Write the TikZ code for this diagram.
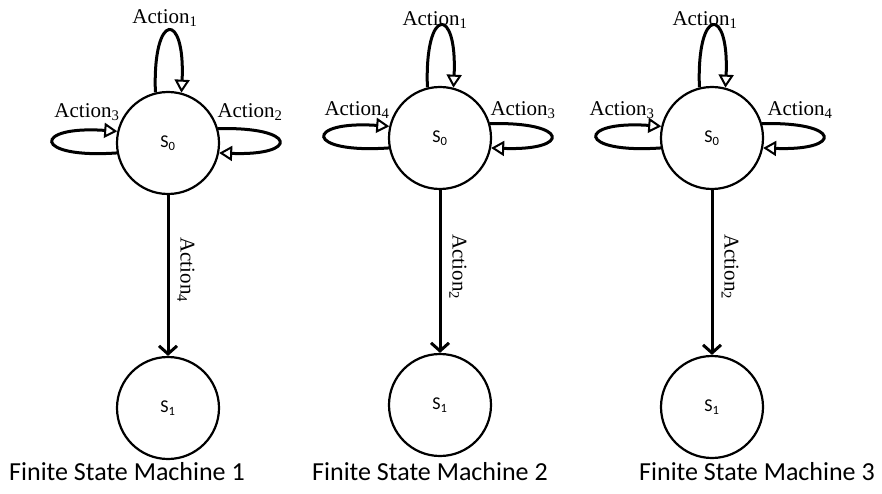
\documentclass[tikz,border=0pt]{standalone}
\usepackage{fontspec}
\setmainfont{Liberation Serif}
\newfontfamily\calib{Carlito}
\usetikzlibrary{arrows.meta}

\tikzset{
  state/.style={circle,draw,line width=2.2pt,minimum size=102pt,inner sep=0pt,
    font=\calib\fontsize{18}{20}\selectfont},
  act/.style={inner sep=0pt,font=\fontsize{21}{23}\selectfont},
  selfloop/.style={line width=3pt,-{Triangle[open,length=13pt,width=15pt,line width=2pt]}},
  trans/.style={line width=3pt,-{Straight Barb[length=8pt,width=18pt,line width=3pt]}},
  fsmname/.style={inner sep=0pt,font=\calib\fontsize{26}{28}\selectfont}
}

\begin{document}
\begin{tikzpicture}[x=1pt,y=1pt]
  \useasboundingbox (0,0) rectangle (882,493);

  \node[state] (m1s0) at (168,350) {S\textsubscript{0}};
  \node[state] (m1s1) at (168,85) {S\textsubscript{1}};
  \draw[selfloop] (m1s0.104) .. controls +(-3,82) and +(4,82) .. (m1s0.75);
  \draw[selfloop] (m1s0.191) .. controls +(-85,-6) and +(-85,6) .. (m1s0.167);
  \draw[selfloop] (m1s0.16) .. controls +(80,2) and +(80,-3) .. (m1s0.-11);
  \draw[trans] (m1s0) -- (m1s1);
  \node[act] (m1a1) at (165,475) {Action\textsubscript{1}};
  \node[act] (m1a3) at (87,381) {Action\textsubscript{3}};
  \node[act] (m1a2) at (250,381) {Action\textsubscript{2}};
  \node[act,rotate=-90] (m1a4) at (186,223) {Action\textsubscript{4}};
  \node[fsmname] (m1name) at (127,21) {Finite State Machine 1};

  \node[state] (m2s0) at (440,355) {S\textsubscript{0}};
  \node[state] (m2s1) at (440,88) {S\textsubscript{1}};
  \draw[selfloop] (m2s0.104) .. controls +(-3,82) and +(4,82) .. (m2s0.75);
  \draw[selfloop] (m2s0.191) .. controls +(-85,-6) and +(-85,6) .. (m2s0.167);
  \draw[selfloop] (m2s0.16) .. controls +(80,2) and +(80,-3) .. (m2s0.-11);
  \draw[trans] (m2s0) -- (m2s1);
  \node[act] (m2a1) at (435,473) {Action\textsubscript{1}};
  \node[act] (m2a4) at (357,383) {Action\textsubscript{4}};
  \node[act] (m2a3) at (523,383) {Action\textsubscript{3}};
  \node[act,rotate=-90] (m2a2) at (458,226) {Action\textsubscript{2}};
  \node[fsmname] (m2name) at (430,21) {Finite State Machine 2};

  \node[state] (m3s0) at (712,355) {S\textsubscript{0}};
  \node[state] (m3s1) at (712,86) {S\textsubscript{1}};
  \draw[selfloop] (m3s0.104) .. controls +(-3,82) and +(4,82) .. (m3s0.75);
  \draw[selfloop] (m3s0.191) .. controls +(-85,-6) and +(-85,6) .. (m3s0.167);
  \draw[selfloop] (m3s0.16) .. controls +(80,2) and +(80,-3) .. (m3s0.-11);
  \draw[trans] (m3s0) -- (m3s1);
  \node[act] (m3a1) at (705,473) {Action\textsubscript{1}};
  \node[act] (m3a3) at (622,383) {Action\textsubscript{3}};
  \node[act] (m3a4) at (800,383) {Action\textsubscript{4}};
  \node[act,rotate=-90] (m3a2) at (730,226) {Action\textsubscript{2}};
  \node[fsmname] (m3name) at (757,21) {Finite State Machine 3};
\end{tikzpicture}
\end{document}
